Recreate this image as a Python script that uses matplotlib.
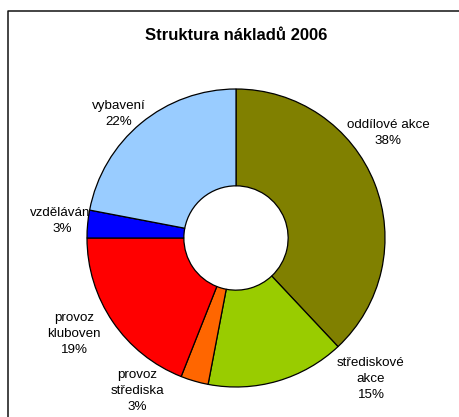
import matplotlib
matplotlib.use('Agg')
import matplotlib.pyplot as plt
from matplotlib.lines import Line2D

# data
categories = ['oddílové akce', 'střediskové\nakce', 'provoz\nstřediska',
              'provoz\nkluboven', 'vzdělávání', 'vybavení']
shares = [38, 15, 3, 19, 3, 22]
colors = ['#808000', '#99CC00', '#FF6600', '#FF0000', '#0000FF', '#99CCFF']

# label centres in pixels (x, y from top), Excel-like placement
label_pos = [(388, 133), (371, 379), (137, 391), (74, 334), (62, 221), (119, 114)]

W, H = 459, 417
plt.rcParams['font.family'] = ['Liberation Sans', 'DejaVu Sans']

fig = plt.figure(figsize=(W / 100, H / 100), dpi=100)
ax = fig.add_axes([0, 0, 1, 1])

cx, cy, r = 236, 238, 149
wedges, _ = ax.pie(shares, colors=colors, startangle=90, counterclock=False,
                   center=(cx, H - cy), radius=r,
                   wedgeprops=dict(width=r * 0.65, edgecolor='black', linewidth=0.9))
for w in wedges:
    w.set_zorder(3)

# labels sit under the ring, so a long one gets partly covered (as in Excel)
for cat, val, (x, y) in zip(categories, shares, label_pos):
    ax.text(x, H - y, '%s\n%d%%' % (cat, val), ha='center', va='center',
            fontsize=9.6, linespacing=1.4, color='black', zorder=1)

ax.text(236, H - 35, 'Struktura nákladů 2006', ha='center', va='center',
        fontsize=12, fontweight='bold')

ax.set_xlim(0, W)
ax.set_ylim(0, H)
ax.set_aspect('auto')
ax.axis('off')

# chart area frame (left and top edges visible)
fig.add_artist(Line2D([7.5 / W, 7.5 / W, 1], [0, 1 - 10.5 / H, 1 - 10.5 / H],
                      transform=fig.transFigure, color='#111111', linewidth=1.1))

fig.savefig('out.png', dpi=100)
